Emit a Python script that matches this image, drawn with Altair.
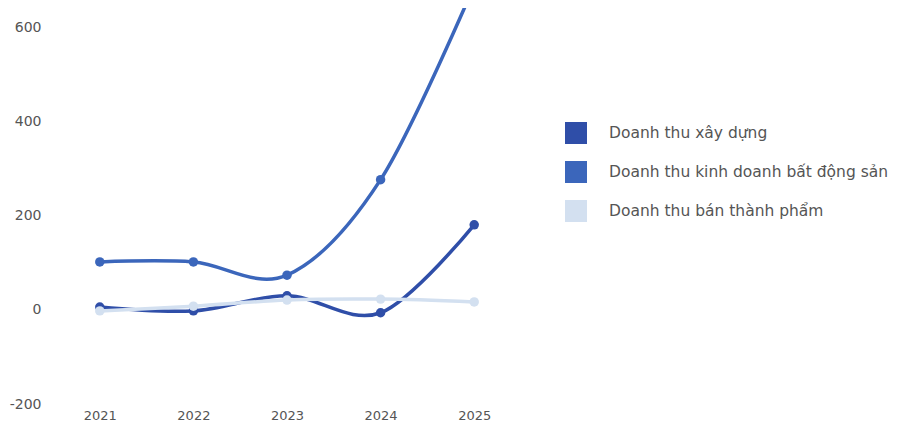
import altair as alt
import pandas as pd

years = ["2021", "2022", "2023", "2024", "2025"]
series_names = [
    "Doanh thu xây dựng",
    "Doanh thu kinh doanh bất động sản",
    "Doanh thu bán thành phẩm",
]
xay_dung = [6, -2, 30, -6, 181]
bat_dong_san = [102, 102, 74, 277, 690]
ban_thanh_pham = [-2, 8, 21, 23, 17]
colors = ["#2f4ea8", "#3b66bb", "#d3e0f0"]

rows = []
for name, vals in zip(series_names, [xay_dung, bat_dong_san, ban_thanh_pham]):
    for y, v in zip(years, vals):
        rows.append({"year": y, "series": name, "value": v})
df = pd.DataFrame(rows)

FONT = "DejaVu Sans"

color = alt.Color(
    "series:N",
    scale=alt.Scale(domain=series_names, range=colors),
    title=None,
    legend=alt.Legend(
        orient="none",
        legendX=512,
        legendY=114,
        symbolType="square",
        symbolSize=484,
        symbolStrokeWidth=0,
        symbolOpacity=1,
        labelFont=FONT,
        labelFontSize=15.5,
        labelColor="#555555",
        labelOffset=22,
        rowPadding=17,
        labelLimit=400,
    ),
)

x = alt.X(
    "year:O",
    scale=alt.Scale(type="point", padding=0.5),
    axis=alt.Axis(
        title=None, labelAngle=0, domain=False, ticks=False, grid=False,
        labelFont=FONT, labelFontSize=13, labelColor="#555555", labelPadding=5,
    ),
)
y = alt.Y(
    "value:Q",
    scale=alt.Scale(domain=[-200, 642], nice=False, zero=False),
    axis=alt.Axis(
        title=None, values=[-200, 0, 200, 400, 600], domain=False, ticks=False,
        grid=False, labelFont=FONT, labelFontSize=14, labelColor="#555555",
        labelPadding=12, minExtent=45, maxExtent=45,
        labelExpr="'' + datum.value",
    ),
)

base = alt.Chart(df)
layers = []
for name in [series_names[1], series_names[0], series_names[2]]:
    sub = base.transform_filter(alt.datum.series == name)
    line = sub.mark_line(interpolate="cardinal", strokeWidth=3.5, clip=True).encode(
        x=x, y=y, color=color
    )
    pts = sub.mark_point(filled=True, size=90, opacity=1, clip=True).encode(
        x=x, y=y, color=color
    )
    layers += [line, pts]

chart = alt.layer(*layers).properties(
    width=468,
    height=396,
    padding={"left": 0, "top": 0, "right": 0, "bottom": 0},
    background="#ffffff",
).configure_view(stroke=None)

chart.save("out.html", embed_options={"renderer": "svg", "actions": False})
